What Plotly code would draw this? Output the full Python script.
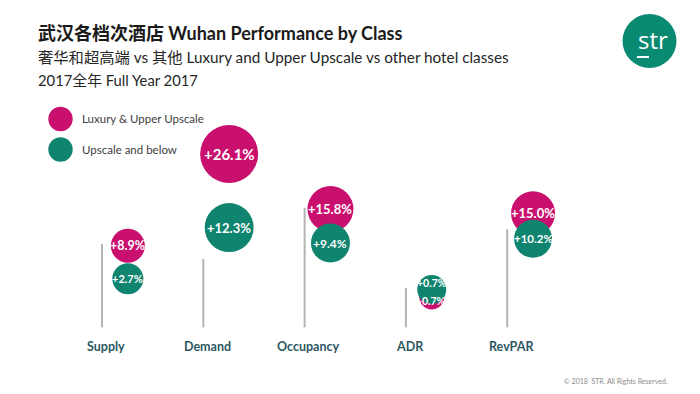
import plotly.graph_objects as go

# ---- data ----
categories = ["Supply", "Demand", "Occupancy", "ADR", "RevPAR"]
luxury_pct = [8.9, 26.1, 15.8, -0.7, 15.0]
upscale_pct = [2.7, 12.3, 9.4, 0.7, 10.2]
guide_top = [9.2, 6.4, 16.0, 1.0, 12.0]   # tops of the grey guide lines (value units)
guide_bottom = -6.4
series_names = ["Luxury & Upper Upscale", "Upscale and below"]

# ---- styles ----
MAGENTA = "#c9106f"
GREEN = "#0f846f"
LABEL_COL = "#2d5864"
FONT = "Lato, 'Noto Sans CJK SC', sans-serif"
lux_size = [34, 58, 46, 25, 44]
ups_size = [31, 49, 39, 29, 38]
lux_text = [12.5, 15, 13, 10.5, 13]
ups_text = [11, 13, 12, 10.5, 11.5]
lux_text_shift = [0, 0, 0, -4, 0]   # pixel nudges for label legibility
ups_text_shift = [0, 0, 0, 6, 0]
W, H = 700, 394

def fmt(v):
    return ("+" if v > 0 else "") + f"{v:.1f}%"

def px(x):
    return x / W

def py(y):
    return 1 - y / H

xi = list(range(len(categories)))
bx = [i + 0.255 for i in xi]

fig = go.Figure()

# guide lines
for i, top in zip(xi, guide_top):
    fig.add_shape(type="line", xref="x", yref="y", x0=i, x1=i, y0=guide_bottom, y1=top,
                  line=dict(color="#b3b3b3", width=2), layer="below")

fig.add_trace(go.Scatter(
    x=bx, y=luxury_pct, mode="markers", name=series_names[0],
    marker=dict(size=lux_size, color=MAGENTA, line=dict(width=0), opacity=1),
    hoverinfo="skip", cliponaxis=False))
fig.add_trace(go.Scatter(
    x=bx, y=upscale_pct, mode="markers", name=series_names[1],
    marker=dict(size=ups_size, color=GREEN, line=dict(width=0), opacity=1),
    hoverinfo="skip", cliponaxis=False))

# bubble value labels
for vals, sizes, shifts in [(luxury_pct, lux_text, lux_text_shift), (upscale_pct, ups_text, ups_text_shift)]:
    for x, v, s, sh in zip(bx, vals, sizes, shifts):
        fig.add_annotation(x=x, y=v, xref="x", yref="y", text=f"<b>{fmt(v)}</b>", showarrow=False,
                           yshift=sh, xanchor="center", yanchor="middle",
                           font=dict(family=FONT, size=s, color="white"))

# category labels
for i, c in zip(xi, categories):
    fig.add_annotation(x=i + 0.04, y=-10.0, xref="x", yref="y", text=f"<b>{c}</b>",
                       showarrow=False, font=dict(family=FONT, size=12.5, color=LABEL_COL),
                       xanchor="center", yanchor="middle")

# titles
fig.add_annotation(x=px(36), y=py(33), xref="paper", yref="paper", xanchor="left", yanchor="middle",
                   text="<b>武汉各档次酒店 Wuhan Performance by Class</b>", showarrow=False,
                   font=dict(family=FONT, size=18, color="#1a1a1a"))
fig.add_annotation(x=px(36), y=py(57), xref="paper", yref="paper", xanchor="left", yanchor="middle",
                   text="奢华和超高端 vs 其他 Luxury and Upper Upscale vs other hotel classes", showarrow=False,
                   font=dict(family=FONT, size=15.3, color="#262626"))
fig.add_annotation(x=px(36), y=py(80), xref="paper", yref="paper", xanchor="left", yanchor="middle",
                   text="2017全年 Full Year 2017", showarrow=False,
                   font=dict(family=FONT, size=14.8, color="#262626"))

# legend
for cy, col, name in [(119, MAGENTA, series_names[0]), (149.5, GREEN, series_names[1])]:
    r = 12.2
    fig.add_shape(type="circle", xref="paper", yref="paper",
                  x0=px(60.5 - r), x1=px(60.5 + r), y0=py(cy + r), y1=py(cy - r),
                  fillcolor=col, line=dict(width=0))
    fig.add_annotation(x=px(80), y=py(cy), xref="paper", yref="paper", xanchor="left", yanchor="middle",
                       text=name, showarrow=False, font=dict(family=FONT, size=11.5, color="#404040"))

# logo
r = 27
fig.add_shape(type="circle", xref="paper", yref="paper",
              x0=px(649.5 - r), x1=px(649.5 + r), y0=py(41 + r), y1=py(41 - r),
              fillcolor="#0a8a72", line=dict(width=0))
fig.add_annotation(x=px(653), y=py(40), xref="paper", yref="paper", xanchor="center", yanchor="middle",
                   text="str", showarrow=False, font=dict(family="Open Sans", size=24, color="white"))
fig.add_shape(type="line", xref="paper", yref="paper", x0=px(637), x1=px(649), y0=py(57), y1=py(57),
              line=dict(color="white", width=2))

# footer
fig.add_annotation(x=px(562), y=py(381), xref="paper", yref="paper", xanchor="left", yanchor="middle",
                   text="© 2018  STR. All Rights Reserved.", showarrow=False,
                   font=dict(family=FONT, size=7, color="#8c8c8c"))

fig.update_layout(
    width=W, height=H, margin=dict(l=0, r=0, t=0, b=0),
    paper_bgcolor="white", plot_bgcolor="white", showlegend=False,
    xaxis=dict(range=[-1.007, 5.903], visible=False, fixedrange=True),
    yaxis=dict(range=[-18.90, 54.98], visible=False, fixedrange=True),
)

fig.write_html("out.html", config={"displayModeBar": False},
               post_script="document.body.style.margin='0';document.body.style.overflow='hidden';")
